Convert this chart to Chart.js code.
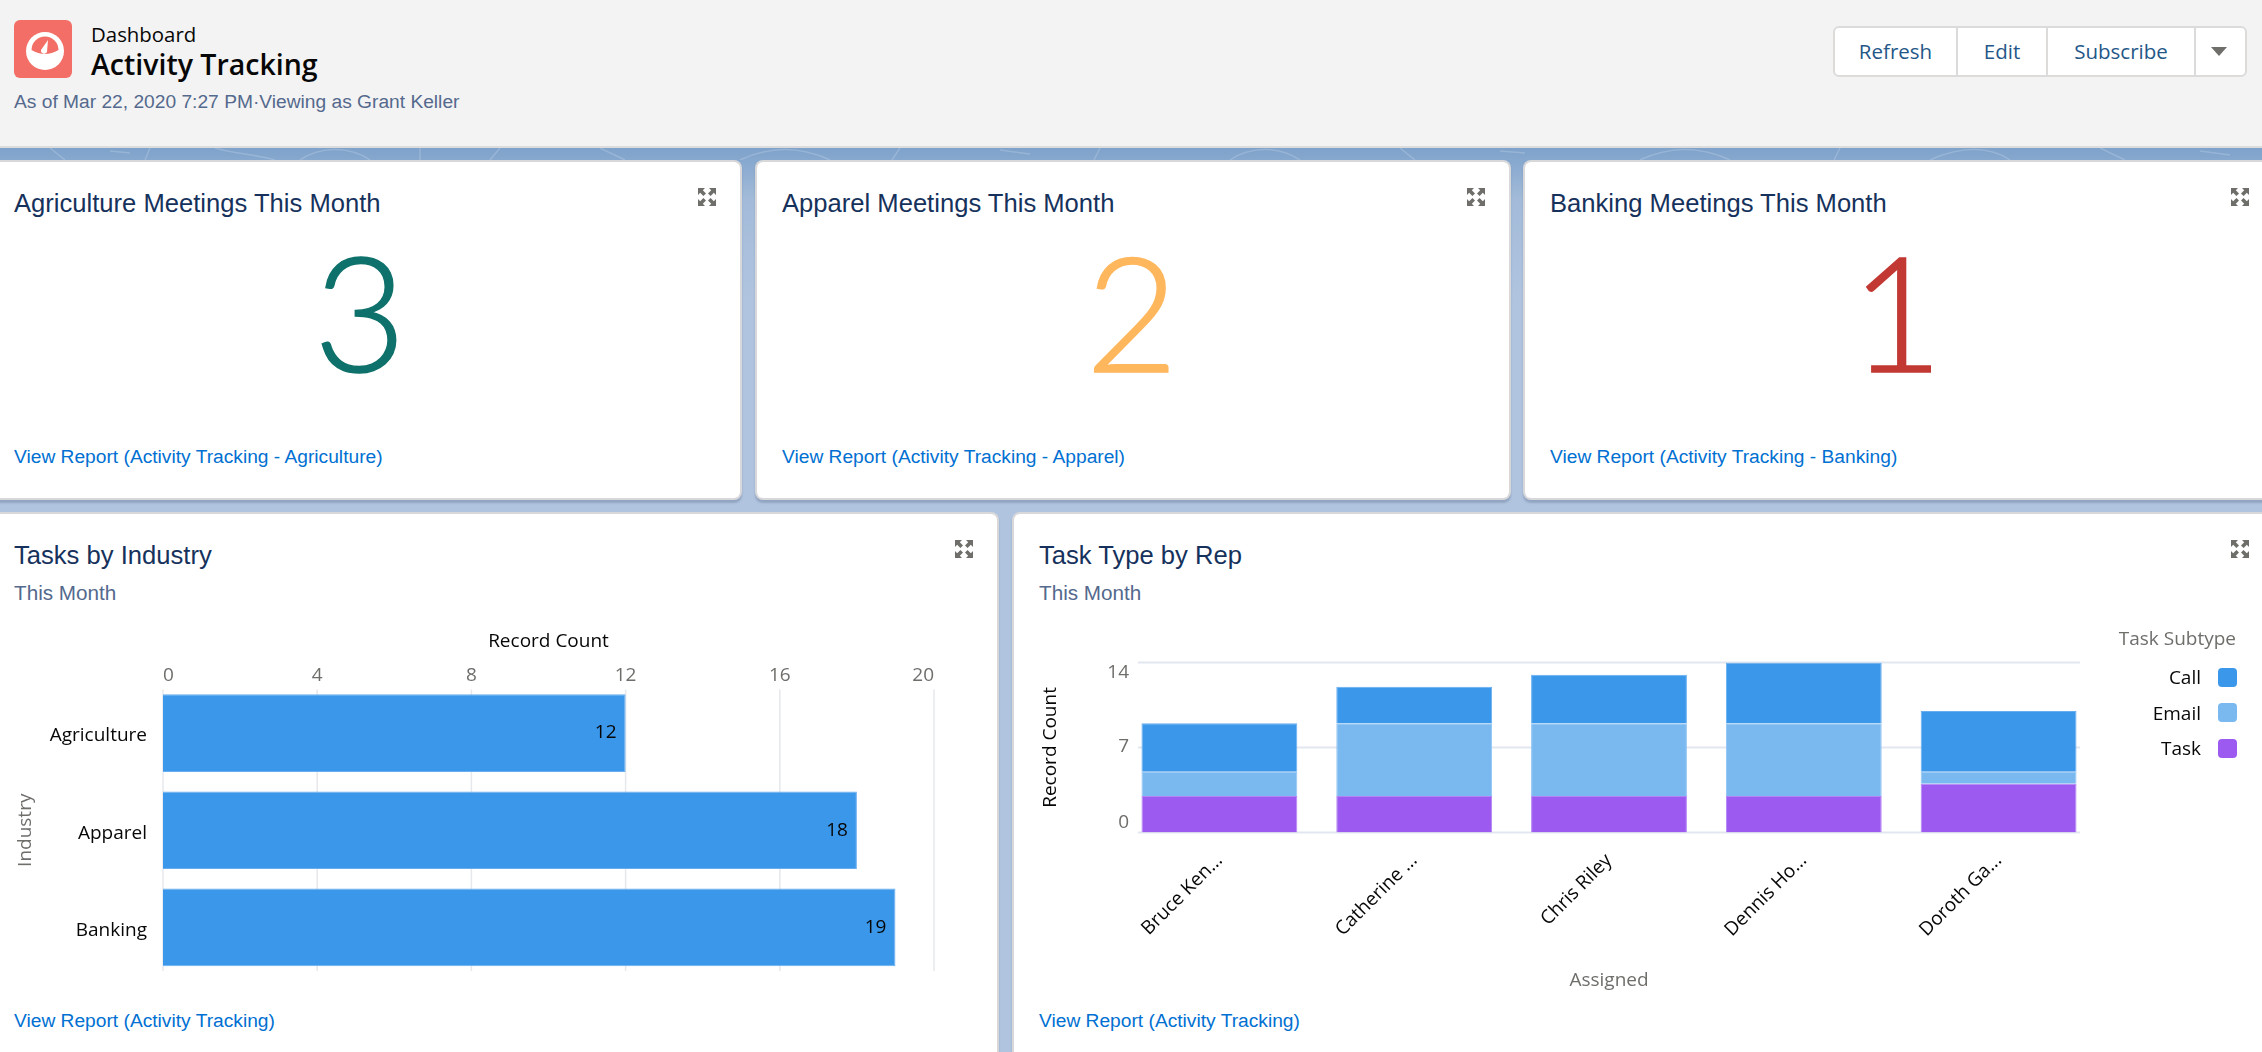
<!DOCTYPE html>
<html>
<head>
<meta charset="utf-8">
<title>Activity Tracking</title>
<script src="https://cdn.jsdelivr.net/npm/chart.js@4"></script>
<style>
  html, body { margin: 0; padding: 0; }
  body { position: relative; width: 2262px; height: 1052px; overflow: hidden; isolation: isolate; background: linear-gradient(#7ea2cb 148px, #a3bbd9 200px, #b0c4df 300px); font-family: "Liberation Sans", Arial, sans-serif; }
  .abs { position: absolute; white-space: nowrap; }
  .sf { font-family: "Open Sans", sans-serif; }
  #header { position: absolute; left: 0; top: 0; width: 2262px; height: 146px; background: #f3f3f3; border-bottom: 2px solid #dcdcdc; }
  #band { position: absolute; left: 0; top: 148px; width: 2262px; height: 12px; opacity: .22; }
  .card { position: absolute; z-index: -1; background: #fff; border-radius: 6px; box-shadow: 0 0 0 2px #d8d8da, 0 3px 2px 2px rgba(90, 110, 140, .35); }
  .title { font-size: 25.6px; color: #16325c; line-height: 30px; }
  .sub { font-size: 20.7px; color: #54698d; line-height: 24px; }
  .link { font-size: 19.2px; color: #0070d2; line-height: 24px; }
  .big { font-family: "Lato", sans-serif; font-weight: 300; font-size: 160px; line-height: 160px; -webkit-text-stroke: 1.5px currentColor; transform: translateX(-50%); }
  #buttons { position: absolute; left: 1833px; top: 26px; width: 410px; height: 47px; background: #fff; border: 2px solid #dddbda; border-radius: 6px; }
  .btn { position: absolute; top: 0; height: 47px; line-height: 47px; text-align: center; font-size: 20.5px; color: #245788; border-right: 2px solid #dddbda; }
  canvas { position: absolute; }
  .legend-swatch { position: absolute; width: 19px; height: 19px; border-radius: 4px; }
</style>
</head>
<body>
<svg width="0" height="0" style="position:absolute">
  <symbol id="expand" viewBox="0 0 18 18">
    <g fill="#706e6b">
      <path d="M0 0h7L4.8 2.2 8 5.4 5.4 8 2.2 4.8 0 7z"/>
      <path d="M18 0v7l-2.2-2.2L12.6 8 10 5.4l3.2-3.2L11 0z"/>
      <path d="M0 18v-7l2.2 2.2L5.4 10 8 12.6l-3.2 3.2L7 18z"/>
      <path d="M18 18h-7l2.2-2.2L10 12.6l2.6-2.6 3.2 3.2L18 11z"/>
    </g>
  </symbol>
</svg>

<div id="header">
  <svg class="abs" style="left:14px;top:20px" width="58" height="58" viewBox="0 0 58 58">
    <rect width="58" height="58" rx="6" fill="#f26e66"/>
    <circle cx="31" cy="31" r="19" fill="#fff"/>
    <path d="M17.5 30A13.5 13.5 0 0 1 44.5 30Q31 38 17.5 30Z" fill="#f26e66"/>
    <path d="M34 20L33 32A3.2 3.2 0 0 1 27 30Z" fill="#fff"/>
  </svg>
  <div class="abs sf" style="left:91px;top:21px;font-size:20.4px;line-height:26px;color:#080707">Dashboard</div>
  <div class="abs sf" style="left:91px;top:45px;font-size:28.5px;line-height:38px;font-weight:600;color:#080707">Activity Tracking</div>
  <div class="abs" style="left:14px;top:90px;font-size:19.2px;line-height:24px;color:#54698d">As of Mar 22, 2020 7:27 PM·Viewing as Grant Keller</div>
  <div id="buttons">
    <div class="btn sf" style="left:0;width:121px">Refresh</div>
    <div class="btn sf" style="left:123px;width:88px">Edit</div>
    <div class="btn sf" style="left:213px;width:146px">Subscribe</div>
    <svg class="abs" style="left:376px;top:19px" width="16" height="9"><path d="M0 0h16L8 9z" fill="#706e6b"/></svg>
  </div>
</div>
<svg id="band" viewBox="0 0 2262 12" preserveAspectRatio="none">
  <g fill="none" stroke="#e8eef6" stroke-width="1.5">
    <path d="M50 0l15 12M110 3l20 2M150 0l-5 12M215 0c20 6 40 6 60 12M300 12c20-14 50-14 70 0M420 0v12M500 0l-10 12M600 0l25 12M740 12c30-14 60-14 90 0M900 0l-8 12M1000 2l30 4M1100 0l-6 12M1230 12c20-14 50-14 70 0M1400 0l15 12M1500 3l25 2M1640 12c30-14 60-14 90 0M1840 0l-6 12M1930 12c30-14 60-14 80 0M2100 0l25 12M2200 3l30 4"/>
  </g>
</svg>

<canvas id="industryChart"></canvas>
<canvas id="repChart"></canvas>

<script>
// tile text
const meetingTitles = ['Agriculture Meetings This Month', 'Apparel Meetings This Month', 'Banking Meetings This Month'];
const meetingCounts = [3, 2, 1];
const meetingColors = ['#0f716b', '#feb75d', '#c23934'];
const meetingLinks = ['View Report (Activity Tracking - Agriculture)', 'View Report (Activity Tracking - Apparel)', 'View Report (Activity Tracking - Banking)'];

// Tasks by Industry
const industries = ['Agriculture', 'Apparel', 'Banking'];
const industryCounts = [12, 18, 19];
const countTicks = [0, 4, 8, 12, 16, 20];

// Task Type by Rep
const reps = ['Bruce Ken...', 'Catherine ...', 'Chris Riley', 'Dennis Ho...', 'Doroth Ga...'];
const taskCounts = [3, 3, 3, 3, 4];
const emailCounts = [2, 6, 6, 6, 1];
const callCounts = [4, 3, 4, 5, 5];
const repTicks = [0, 7, 14];
const subtypes = ['Call', 'Email', 'Task'];
const subtypeColors = ['#3a97ea', '#7ab8f0', '#9d5af0'];
const subtypeEdges = ['#68aeef', '#8fc3f2', '#b184f3'];

function addEl(cls, style, text) {
  const el = document.createElement('div');
  el.className = cls;
  el.style.cssText = style;
  if (text !== undefined) el.textContent = text;
  document.body.appendChild(el);
  return el;
}

function addExpand(left, top) {
  const ns = 'http://www.w3.org/2000/svg';
  const svg = document.createElementNS(ns, 'svg');
  svg.setAttribute('width', 18);
  svg.setAttribute('height', 18);
  svg.setAttribute('class', 'abs');
  svg.style.left = left + 'px';
  svg.style.top = top + 'px';
  const use = document.createElementNS(ns, 'use');
  use.setAttribute('href', '#expand');
  svg.appendChild(use);
  document.body.appendChild(svg);
}

// top row of tiles
const tileLefts = [-11, 757, 1525];
const tileWidths = [751, 752, 752];
const tileCenters = [360, 1132, 1897];
const expandLefts = [698, 1467, 2231];
meetingTitles.forEach((title, i) => {
  const textLeft = tileLefts[i] + 25;
  addEl('card', `left:${tileLefts[i]}px;top:162px;width:${tileWidths[i]}px;height:336px`);
  addEl('abs title', `left:${textLeft}px;top:188px`, title);
  addEl('abs big', `left:${tileCenters[i]}px;top:230px;color:${meetingColors[i]}`, meetingCounts[i]);
  addEl('abs link', `left:${textLeft}px;top:445px`, meetingLinks[i]);
  addExpand(expandLefts[i], 188);
});

// bottom row of tiles
addEl('card', 'left:-11px;top:514px;width:1008px;height:600px');
addEl('abs title', 'left:14px;top:540px', 'Tasks by Industry');
addEl('abs sub', 'left:14px;top:581px', 'This Month');
addEl('abs link', 'left:14px;top:1009px', 'View Report (Activity Tracking)');
addExpand(955, 540);

addEl('card', 'left:1014px;top:514px;width:1263px;height:600px');
addEl('abs title', 'left:1039px;top:540px', 'Task Type by Rep');
addEl('abs sub', 'left:1039px;top:581px', 'This Month');
addEl('abs link', 'left:1039px;top:1009px', 'View Report (Activity Tracking)');
addExpand(2231, 540);

// legend of the rep chart
addEl('abs sf', 'right:26px;top:626px;font-size:19px;line-height:24px;color:#706e6b', 'Task Subtype');
subtypes.forEach((name, i) => {
  const rowY = 677 + i * 35.5;
  addEl('abs sf', `right:61px;top:${rowY - 12}px;font-size:19px;line-height:24px;color:#080707`, name);
  addEl('legend-swatch', `left:2218px;top:${rowY - 9.5}px;background:${subtypeColors[i]}`);
});

Chart.defaults.font.family = '"Open Sans", sans-serif';
Chart.defaults.font.size = 19;
Chart.defaults.animation = false;

// gridlines stop short of the plot area in the original, so they are drawn here
const shortGrid = {
  id: 'shortGrid',
  beforeDatasetsDraw(chart, args, opts) {
    const { ctx, chartArea } = chart;
    const scale = chart.scales[opts.axis];
    ctx.save();
    ctx.strokeStyle = opts.color;
    ctx.lineWidth = opts.width;
    scale.ticks.forEach((tick) => {
      const p = scale.getPixelForValue(tick.value);
      ctx.beginPath();
      if (opts.axis === 'x') {
        ctx.moveTo(p, chartArea.top + opts.inset);
        ctx.lineTo(p, chartArea.bottom - opts.inset);
      } else {
        ctx.moveTo(chartArea.left + opts.inset, p);
        ctx.lineTo(chartArea.right - opts.inset, p);
      }
      ctx.stroke();
    });
    ctx.restore();
  },
};

// value label inside the end of each bar
const barValues = {
  id: 'barValues',
  afterDatasetsDraw(chart) {
    const { ctx } = chart;
    ctx.save();
    ctx.font = '19px "Open Sans", sans-serif';
    ctx.fillStyle = '#080707';
    ctx.textAlign = 'right';
    ctx.textBaseline = 'middle';
    chart.getDatasetMeta(0).data.forEach((bar, i) => {
      ctx.fillText(chart.data.datasets[0].data[i], bar.x - 9, bar.y);
    });
    ctx.restore();
  },
};

// y labels overlap the plot edge and the end ones sit inside it; the scale would clip them
const innerYLabels = {
  id: 'innerYLabels',
  afterDraw(chart) {
    const { ctx, chartArea } = chart;
    const scale = chart.scales.y;
    ctx.save();
    ctx.font = '19px "Open Sans", sans-serif';
    ctx.fillStyle = '#706e6b';
    ctx.textAlign = 'right';
    ctx.textBaseline = 'middle';
    scale.ticks.forEach((tick, i) => {
      const nudge = i === 0 ? -10 : i === scale.ticks.length - 1 ? 10.5 : -1;
      ctx.fillText(String(tick.value), chartArea.left + 7, scale.getPixelForValue(tick.value) + nudge);
    });
    ctx.restore();
  },
};

function placeCanvas(id, left, top, width, height) {
  const canvas = document.getElementById(id);
  canvas.style.left = left + 'px';
  canvas.style.top = top + 'px';
  canvas.style.width = width + 'px';
  canvas.style.height = height + 'px';
  canvas.width = width;
  canvas.height = height;
  return canvas;
}

new Chart(placeCanvas('industryChart', 0, 620, 997, 380), {
  type: 'bar',
  data: {
    labels: industries,
    datasets: [{
      label: 'Record Count',
      data: industryCounts,
      backgroundColor: subtypeColors[0],
      borderColor: subtypeEdges[0],
      borderWidth: 1,
      categoryPercentage: 1,
      barPercentage: 0.8,
    }],
  },
  options: {
    indexAxis: 'y',
    responsive: false,
    layout: { padding: { right: 63, bottom: 24 } },
    plugins: {
      legend: { display: false },
      tooltip: { enabled: false },
      shortGrid: { axis: 'x', inset: 5, color: '#e6e8ec', width: 1.5 },
    },
    scales: {
      x: {
        position: 'top',
        min: 0,
        max: 20,
        afterBuildTicks: (scale) => { scale.ticks = countTicks.map((value) => ({ value })); },
        afterFit: (scale) => { scale.height = 64.5; },
        grid: { display: false, drawTicks: false },
        border: { display: false },
        ticks: { align: 'inner', padding: -2, color: '#706e6b' },
        title: { display: true, text: 'Record Count', color: '#080707', padding: { top: 10, bottom: 0 } },
      },
      y: {
        afterFit: (scale) => { scale.width = 163; },
        grid: { display: false, drawTicks: false },
        border: { display: false },
        ticks: {
          padding: 16,
          color: '#080707',
          font: { lineHeight: '6px' },
          // blank first line drops the label a little below the bar centre
          callback(value) { return ['', this.getLabelForValue(value)]; },
        },
        title: { display: true, text: 'Industry', color: '#706e6b', padding: { top: 14, bottom: 0 } },
      },
    },
  },
  plugins: [shortGrid, barValues],
});

new Chart(placeCanvas('repChart', 1013, 620, 1249, 380), {
  type: 'bar',
  data: {
    labels: reps,
    // stacked bottom to top
    datasets: [
      { label: subtypes[2], data: taskCounts, backgroundColor: subtypeColors[2], borderColor: subtypeEdges[2] },
      { label: subtypes[1], data: emailCounts, backgroundColor: subtypeColors[1], borderColor: subtypeEdges[1] },
      { label: subtypes[0], data: callCounts, backgroundColor: subtypeColors[0], borderColor: subtypeEdges[0] },
    ].map((ds) => ({ ...ds, borderWidth: 1, categoryPercentage: 1, barPercentage: 0.8 })),
  },
  options: {
    responsive: false,
    layout: { padding: { top: 42.5, right: 166 } },
    plugins: {
      legend: { display: false },
      tooltip: { enabled: false },
      shortGrid: { axis: 'y', inset: 16, color: '#e2e7ef', width: 2 },
    },
    scales: {
      x: {
        stacked: true,
        afterFit: (scale) => { scale.height = 167.6; },
        grid: { display: false, drawTicks: false },
        border: { display: false },
        ticks: { minRotation: 45, maxRotation: 45, autoSkip: false, padding: 17, color: '#080707' },
        title: { display: true, text: 'Assigned', color: '#706e6b', padding: { top: 0, bottom: 8 } },
      },
      y: {
        stacked: true,
        min: 0,
        max: 14,
        afterBuildTicks: (scale) => { scale.ticks = repTicks.map((value) => ({ value })); },
        afterFit: (scale) => { scale.width = 109; },
        grid: { display: false, drawTicks: false },
        border: { display: false },
        ticks: { display: false },
        title: { display: true, text: 'Record Count', color: '#080707', padding: { top: 26, bottom: 0 } },
      },
    },
  },
  plugins: [shortGrid, innerYLabels],
});
</script>
</body>
</html>
